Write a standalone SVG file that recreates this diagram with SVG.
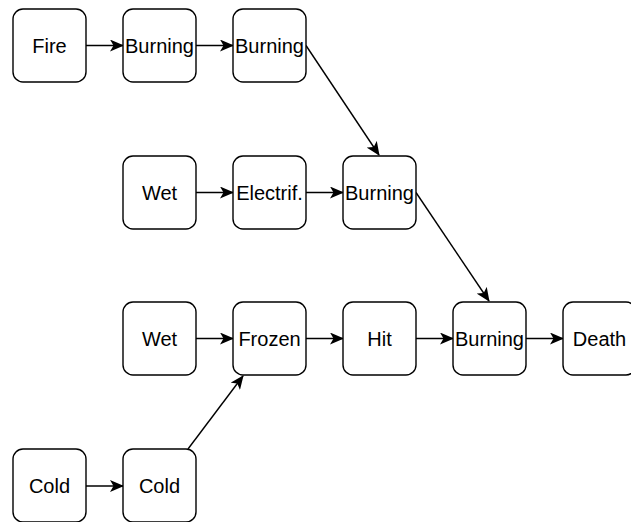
<svg xmlns="http://www.w3.org/2000/svg" width="631" height="522" viewBox="0 0 631 522">
  <style>
    .box { fill: #ffffff; stroke: #000000; stroke-width: 1.4; }
    .lbl { font-family: "Liberation Sans", Arial, sans-serif; font-size: 20px; fill: #000000; text-anchor: middle; dominant-baseline: central; }
    .edge { fill: none; stroke: #000000; stroke-width: 1.4; marker-end: url(#arrow); }
  </style>
  <defs>
    <marker id="arrow" viewBox="0 0 14 12" refX="13" refY="6" markerWidth="14" markerHeight="12" markerUnits="userSpaceOnUse" orient="auto">
      <path d="M0,0 L14,6 L0,12 L3.5,6 Z" fill="#000000"/>
    </marker>
  </defs>
  <rect width="631" height="522" fill="#ffffff"/>

  <g id="connectors">
    <path class="edge" d="M86,45.5 L123,45.5"/>
    <path class="edge" d="M196,45.5 L233,45.5"/>
    <path class="edge" d="M306,45.5 L379,155"/>
    <path class="edge" d="M196,192.5 L233,192.5"/>
    <path class="edge" d="M306,192.5 L343,192.5"/>
    <path class="edge" d="M416,192.5 L489,301"/>
    <path class="edge" d="M196,338.5 L233,338.5"/>
    <path class="edge" d="M306,338.5 L343,338.5"/>
    <path class="edge" d="M416,338.5 L453,338.5"/>
    <path class="edge" d="M526,338.5 L563,338.5"/>
    <path class="edge" d="M86,486 L123,486"/>
    <path class="edge" d="M188,449 L243,376"/>
  </g>

  <g id="fire"><rect class="box" x="13" y="9" width="73" height="73" rx="10"/><text class="lbl" x="49.5" y="45.5">Fire</text></g>
  <g id="burning-1"><rect class="box" x="123" y="9" width="73" height="73" rx="10"/><text class="lbl" x="159.5" y="45.5">Burning</text></g>
  <g id="burning-2"><rect class="box" x="233" y="9" width="73" height="73" rx="10"/><text class="lbl" x="269.5" y="45.5">Burning</text></g>

  <g id="wet-1"><rect class="box" x="123" y="156" width="73" height="73" rx="10"/><text class="lbl" x="159.5" y="192.5">Wet</text></g>
  <g id="electrified"><rect class="box" x="233" y="156" width="73" height="73" rx="10"/><text class="lbl" x="269.5" y="192.5">Electrif.</text></g>
  <g id="burning-3"><rect class="box" x="343" y="156" width="73" height="73" rx="10"/><text class="lbl" x="379.5" y="192.5">Burning</text></g>

  <g id="wet-2"><rect class="box" x="123" y="302" width="73" height="73" rx="10"/><text class="lbl" x="159.5" y="338.5">Wet</text></g>
  <g id="frozen"><rect class="box" x="233" y="302" width="73" height="73" rx="10"/><text class="lbl" x="269.5" y="338.5">Frozen</text></g>
  <g id="hit"><rect class="box" x="343" y="302" width="73" height="73" rx="10"/><text class="lbl" x="379.5" y="338.5">Hit</text></g>
  <g id="burning-4"><rect class="box" x="453" y="302" width="73" height="73" rx="10"/><text class="lbl" x="489.5" y="338.5">Burning</text></g>
  <g id="death"><rect class="box" x="563" y="302" width="73" height="73" rx="10"/><text class="lbl" x="599.5" y="338.5">Death</text></g>

  <g id="cold-1"><rect class="box" x="13" y="449" width="73" height="73" rx="10"/><text class="lbl" x="49.5" y="486">Cold</text></g>
  <g id="cold-2"><rect class="box" x="123" y="449" width="73" height="73" rx="10"/><text class="lbl" x="159.5" y="486">Cold</text></g>
</svg>
